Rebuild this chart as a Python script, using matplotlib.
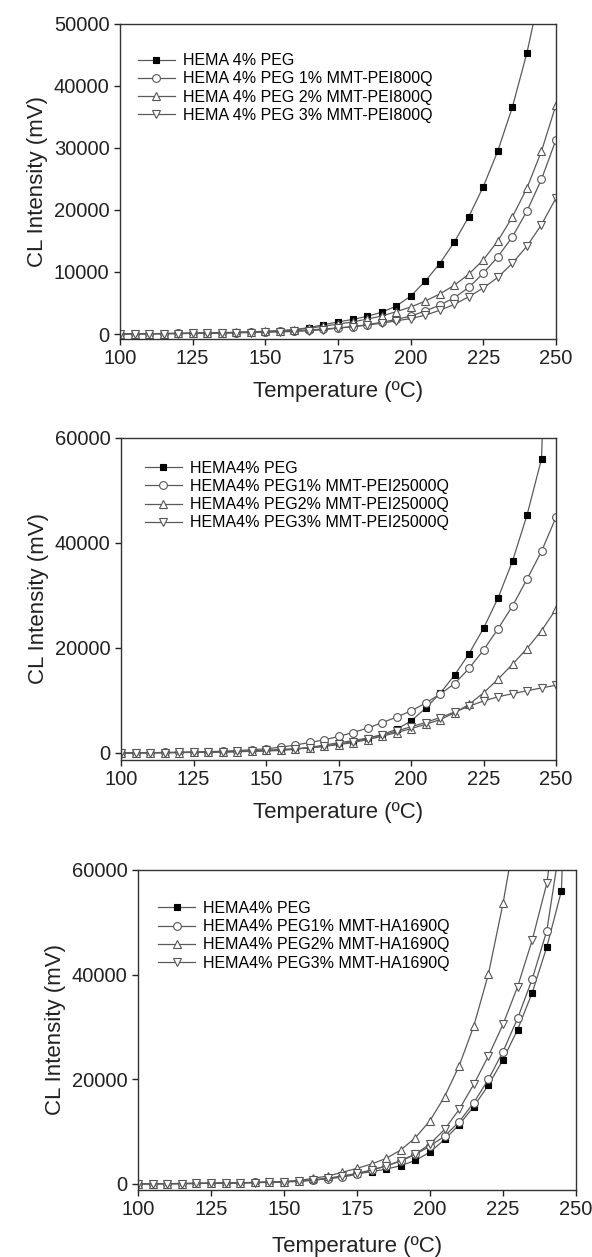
import numpy as np
import matplotlib
matplotlib.use('Agg')
import matplotlib.pyplot as plt

plt.rcParams['font.family'] = ['Liberation Sans', 'DejaVu Sans']

temp = np.arange(100, 251, 5)
nan = np.nan

# HEMA 4% PEG (same curve in all three panels)
peg = [20, 40, 60, 80, 100, 130, 160, 200, 250, 310, 380, 480, 700, 1050, 1500, 1950,
       2350, 2850, 3500, 4500, 6100, 8500, 11350, 14800, 18900, 23750, 29500, 36550,
       45300, 56000, 140000]

# panel A: MMT-PEI800Q
pei800_1 = [10, 30, 50, 70, 90, 120, 150, 190, 230, 290, 360, 440, 540, 660, 820, 980,
            1200, 1500, 1900, 2350, 2900, 3700, 4650, 5850, 7500, 9800, 12450, 15650,
            19800, 24900, 31300]
pei800_2 = [20, 40, 60, 80, 110, 140, 180, 230, 290, 360, 450, 560, 700, 950, 1250, 1600,
            1950, 2400, 2900, 3600, 4350, 5300, 6450, 7850, 9650, 11950, 15000, 18850,
            23500, 29450, 36900]
pei800_3 = [0, 20, 40, 60, 80, 100, 130, 160, 200, 240, 290, 350, 420, 530, 700, 950,
            1170, 1430, 1750, 2120, 2500, 3030, 3820, 4780, 6000, 7430, 9130, 11400,
            14150, 17600, 21900]

# panel B: MMT-PEI25000Q
pei25k_1 = [30, 50, 70, 100, 130, 180, 250, 340, 470, 620, 800, 1100, 1500, 2000, 2500,
            3150, 3900, 4750, 5750, 6850, 8000, 9500, 11200, 13200, 16100, 19600, 23650,
            28000, 33100, 38400, 44900]
pei25k_2 = [0, 20, 40, 60, 90, 120, 160, 210, 280, 380, 500, 620, 780, 950, 1270, 1600,
            1970, 2550, 3180, 3880, 4640, 5450, 6350, 7650, 9250, 11450, 14050, 16900,
            19900, 23300, 27400]
pei25k_3 = [10, 30, 50, 70, 100, 130, 170, 220, 290, 380, 500, 640, 800, 1000, 1300, 1700,
            2150, 2750, 3400, 4150, 5000, 5800, 6750, 7800, 8900, 9900, 10700, 11300,
            11850, 12400, 12900]

# panel C: MMT-HA1690Q
ha_1 = [20, 40, 60, 80, 110, 140, 180, 230, 290, 360, 450, 580, 750, 1000, 1300, 1850,
        2650, 3450, 4400, 5650, 7250, 9150, 11900, 15550, 20000, 25300, 31650, 39150,
        48400, 66500, nan]
ha_2 = [30, 50, 70, 90, 120, 150, 190, 240, 300, 370, 450, 650, 1080, 1530, 2230, 2990,
        3820, 4900, 6500, 8850, 12100, 16700, 22600, 30200, 40100, 53600, 69500, nan,
        nan, nan, nan]
ha_3 = [20, 40, 60, 80, 100, 130, 170, 220, 280, 350, 430, 580, 800, 1080, 1530, 2040,
        2680, 3440, 4460, 5730, 7640, 10450, 14250, 19050, 24450, 30500, 37700, 46600,
        57450, 78000, nan]

labels_a = ['HEMA 4% PEG', 'HEMA 4% PEG 1% MMT-PEI800Q', 'HEMA 4% PEG 2% MMT-PEI800Q',
            'HEMA 4% PEG 3% MMT-PEI800Q']
labels_b = ['HEMA4% PEG', 'HEMA4% PEG1% MMT-PEI25000Q', 'HEMA4% PEG2% MMT-PEI25000Q',
            'HEMA4% PEG3% MMT-PEI25000Q']
labels_c = ['HEMA4% PEG', 'HEMA4% PEG1% MMT-HA1690Q', 'HEMA4% PEG2% MMT-HA1690Q',
            'HEMA4% PEG3% MMT-HA1690Q']

markers = ['s', 'o', '^', 'v']
msizes = [4.6, 5.6, 6.2, 6.2]
line_col = '#5a5a5a'
edge_col = '#555555'

fig = plt.figure(figsize=(5.92, 12.57), dpi=100)

panels = [
    ([0.2027, 0.7303, 0.7365, 0.2510], [peg, pei800_1, pei800_2, pei800_3], labels_a,
     (-800, 50000), [0, 10000, 20000, 30000, 40000, 50000], (0.041, 0.906), 9),
    ([0.2044, 0.3954, 0.7348, 0.2562], [peg, pei25k_1, pei25k_2, pei25k_3], labels_b,
     (-1330, 60000), [0, 20000, 40000, 60000], (0.055, 0.929), 9),
    ([0.2331, 0.0533, 0.7399, 0.2546], [peg, ha_1, ha_2, ha_3], labels_c,
     (-1150, 60000), [0, 20000, 40000, 60000], (0.046, 0.903), 12),
]

for rect, series, labels, ylim, yticks, legpos, xpad in panels:
    ax = fig.add_axes(rect)
    for i, y in enumerate(series):
        face = 'black' if i == 0 else 'white'
        ax.plot(temp, y, color=line_col, lw=0.9, marker=markers[i], ms=msizes[i],
                mfc=face, mec='black' if i == 0 else edge_col, mew=0.8,
                label=labels[i])
    ax.set_xlim(100, 250)
    ax.set_ylim(*ylim)
    ax.set_xticks([100, 125, 150, 175, 200, 225, 250])
    ax.set_yticks(yticks)
    ax.tick_params(direction='out', length=4.5, width=1, labelsize=14.5,
                   colors='#222222', pad=3)
    for s in ax.spines.values():
        s.set_color('#333333')
        s.set_linewidth(1.0)
    ax.set_xlabel('Temperature (ºC)', fontsize=16, labelpad=xpad, color='#222222')
    ax.set_ylabel('CL Intensity (mV)', fontsize=16, labelpad=4, color='#222222')
    ax.legend(loc='upper left', bbox_to_anchor=legpos, frameon=False, fontsize=11.5,
              handlelength=2.3, handletextpad=0.5, labelspacing=0.2,
              borderpad=0, borderaxespad=0)

fig.savefig('out.png', dpi=100)
